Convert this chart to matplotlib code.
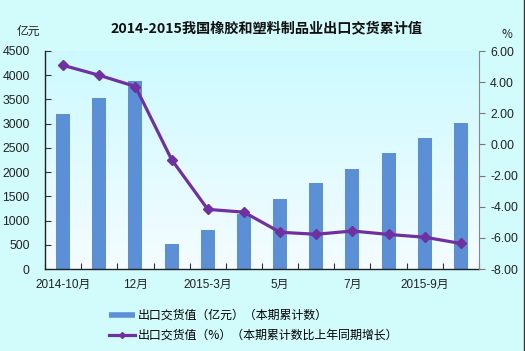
import matplotlib
matplotlib.use("Agg")
import matplotlib.pyplot as plt
import numpy as np
from matplotlib.lines import Line2D

plt.rcParams['font.family'] = ['Noto Sans CJK SC', 'DejaVu Sans']

categories = ["2014-10月", "11月", "12月", "2015-2月", "2015-3月", "4月", "5月", "6月", "7月", "8月", "2015-9月", "10月"]
tick_labels = ["2014-10月", "", "12月", "", "2015-3月", "", "5月", "", "7月", "", "2015-9月", ""]
export_value = [3200, 3530, 3880, 516, 805, 1135, 1445, 1775, 2065, 2395, 2705, 3015]
growth_pct = [5.08, 4.44, 3.72, -0.97, -4.17, -4.35, -5.64, -5.77, -5.56, -5.78, -5.96, -6.36]

bar_label = "出口交货值（亿元）（本期累计数）"
line_label = "出口交货值（%）（本期累计数比上年同期增长）"

fig = plt.figure(figsize=(5.25, 3.51), dpi=100)
fig.patch.set_facecolor('#d2fbfc')

ax = fig.add_axes([45/525, 1-269/351, (479-45)/525, (269-51)/351])
ax.patch.set_alpha(0)
# gradient background for plot area
grad = np.linspace(0, 1, 256).reshape(-1, 1)
top = np.array([0.80, 0.98, 1.0])
bot = np.array([0.96, 0.99, 1.0])
img = top[None, None, :] * (1 - grad[:, :, None]) + bot[None, None, :] * grad[:, :, None]
ax.imshow(img, extent=[0, 1, 0, 1], transform=ax.transAxes, aspect='auto', zorder=0)

x = np.arange(len(categories))
ax.bar(x, export_value, width=0.39, color='#5b8fd6', zorder=2)
ax.set_xlim(-0.5, len(categories) - 0.5)
ax.set_ylim(0, 4500)
ax.set_yticks(np.arange(0, 4501, 500))
ax.set_xticks(np.arange(-0.5, len(categories)), minor=False)
ax.set_xticklabels([])
ax.set_xticks(x, minor=True)
ax.set_xticklabels(tick_labels, minor=True)
ax.tick_params(axis='x', which='major', direction='in', length=4, color='#333333')
ax.tick_params(axis='x', which='minor', length=0, pad=7, labelsize=8.5, labelcolor='#222222')
ax.tick_params(axis='y', direction='in', length=4, color='#333333', labelsize=8.8, labelcolor='#222222', pad=11)
for lab in ax.get_yticklabels():
    lab.set_family(['Liberation Sans', 'DejaVu Sans'])
for lab in ax.get_xticklabels(minor=True):
    lab.set_family(['Liberation Sans', 'Noto Sans CJK SC'])
ax.spines['top'].set_visible(False)
ax.spines['right'].set_visible(False)
for s in ['left', 'bottom']:
    ax.spines[s].set_color('#222222')
    ax.spines[s].set_linewidth(1.0)

ax2 = ax.twinx()
ax2.plot(x, growth_pct, color='#7030a0', lw=2.3, marker='D', markersize=5, zorder=3)
ax2.set_ylim(-8, 6)
ax2.set_yticks(np.arange(-8, 6.01, 2))
ax2.set_yticklabels([f"{v:.2f}" for v in np.arange(-8, 6.01, 2)])
ax2.tick_params(axis='y', direction='out', length=4, color='#777777', labelsize=8.8, labelcolor='#222222', pad=4)
for lab in ax2.get_yticklabels():
    lab.set_family(['Liberation Sans', 'DejaVu Sans'])
for s in ['top', 'left', 'bottom']:
    ax2.spines[s].set_visible(False)
ax2.spines['right'].set_color('#888888')

fig.text(266/525, 1-28/351, "2014-2015我国橡胶和塑料制品业出口交货累计值", ha='center', va='center',
         fontsize=10.2, fontweight='bold', color='#111111')
fig.text(28/525, 1-31/351, "亿元", ha='center', va='center', fontsize=8.5, color='#222222')
fig.text(507/525, 1-34/351, "%", ha='center', va='center', fontsize=8.5, color='#222222')

handles = [Line2D([0], [0], color='#5b8fd6', lw=4, solid_capstyle='butt'),
           Line2D([0], [0], color='#7030a0', lw=2.3, marker='D', markersize=3)]
leg = fig.legend(handles, [bar_label, line_label], loc='upper left',
                 bbox_to_anchor=(98/525, 1-298/351), frameon=False, fontsize=8.6,
                 handlelength=2.2, handletextpad=0.25, labelspacing=0.6)

fig.add_artist(Line2D([523.5/525, 523.5/525], [0, 1], transform=fig.transFigure, color='#333333', lw=1))

fig.savefig("out.png", dpi=100, facecolor=fig.get_facecolor())
